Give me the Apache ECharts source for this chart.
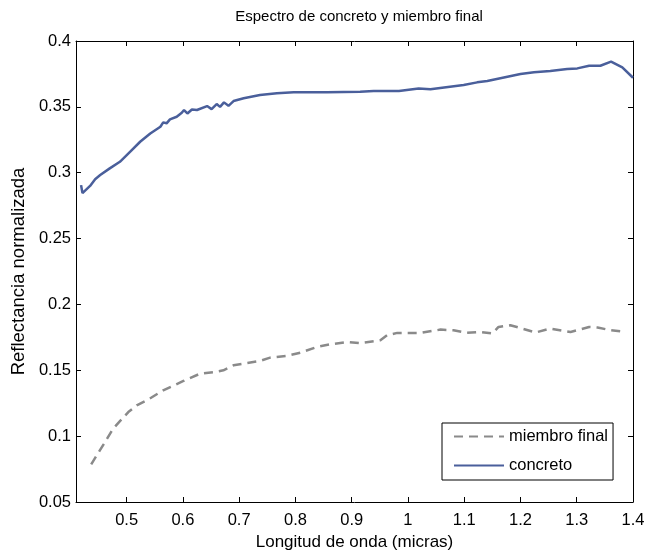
<!DOCTYPE html>
<html>
<head>
<meta charset="utf-8">
<script src="https://cdn.jsdelivr.net/npm/echarts@6/dist/echarts.min.js"></script>
<style>html,body{margin:0;padding:0;background:#fff}#c{width:646px;height:550px}</style>
</head>
<body>
<div id="c"></div>
<script>
const xTicks = [0.5,0.6,0.7,0.8,0.9,1.0,1.1,1.2,1.3,1.4];
const concretoX = [0.419,0.4215,0.435,0.444,0.453,0.470,0.488,0.506,0.524,0.542,0.560,0.565,0.571,0.577,0.589,0.598,0.602,0.608,0.616,0.625,0.643,0.651,0.660,0.666,0.673,0.681,0.690,0.708,0.737,0.767,0.797,0.856,0.915,0.939,0.984,1.019,1.040,1.099,1.123,1.141,1.200,1.224,1.253,1.283,1.301,1.322,1.342,1.361,1.381,1.400];
const concretoY = [0.2906,0.2845,0.290,0.2951,0.2982,0.3033,0.3083,0.3159,0.3235,0.3298,0.3349,0.3382,0.3375,0.3405,0.3425,0.3455,0.3476,0.345,0.348,0.3476,0.3506,0.3483,0.3521,0.350,0.3534,0.3508,0.3544,0.3565,0.359,0.3603,0.361,0.361,0.3615,0.362,0.362,0.364,0.3633,0.3666,0.3686,0.3696,0.3749,0.3762,0.3772,0.3787,0.3792,0.3812,0.3812,0.3843,0.380,0.3721];
const miembroX = [0.437,0.459,0.476,0.503,0.518,0.539,0.565,0.601,0.631,0.657,0.672,0.690,0.708,0.737,0.755,0.785,0.809,0.838,0.862,0.892,0.915,0.951,0.963,0.981,1.023,1.058,1.081,1.105,1.129,1.150,1.161,1.182,1.203,1.227,1.253,1.289,1.322,1.337,1.360,1.387];
const miembroY = [0.0786,0.0938,0.1057,0.1183,0.1234,0.128,0.1348,0.1419,0.1475,0.1487,0.150,0.1538,0.1551,0.1571,0.1596,0.1609,0.1634,0.1677,0.1697,0.1715,0.1707,0.1728,0.1766,0.1784,0.1784,0.1809,0.1804,0.1784,0.1791,0.1779,0.1829,0.1842,0.1817,0.1787,0.1817,0.1791,0.1829,0.1825,0.1804,0.1791];

const font = 'Liberation Sans, Arial, sans-serif';
const zip = (a,b) => a.map((v,i)=>[v,b[i]]);
const axisLine = {show:true, lineStyle:{color:'#000', width:1}};
const chart = echarts.init(document.getElementById('c'));
chart.setOption({
  animation:false,
  title:{text:'Espectro de concreto y miembro final', left:354, top:4, textAlign:'center',
    textStyle:{fontFamily:font, fontSize:15, fontWeight:'normal', color:'#000'}},
  grid:{left:76, right:13, top:41, bottom:48, outerBoundsMode:'none', containLabel:false},
  legend:{orient:'vertical', left:442, top:423, padding:[4,5,5,11], itemGap:10, itemWidth:50, itemHeight:14,
    borderColor:'#000', borderWidth:1, backgroundColor:'#fff', borderRadius:0,
    itemStyle:{opacity:0},
    data:['miembro final','concreto'],
    textStyle:{fontFamily:font, fontSize:16.5, color:'#000', lineHeight:19}},
  xAxis:[{type:'value', min:0.41, max:1.4, position:'bottom',
    name:'Longitud de onda (micras)', nameLocation:'middle', nameGap:29.5,
    nameTextStyle:{fontFamily:font, fontSize:17, color:'#000'},
    axisLine:axisLine, splitLine:{show:false},
    axisTick:{show:true, inside:true, length:5, customValues:xTicks, lineStyle:{color:'#000'}},
    axisLabel:{customValues:xTicks, margin:10, fontFamily:font, fontSize:16.5, color:'#000',
      formatter:v=>String(+v.toFixed(2))}},
   {type:'value', min:0.41, max:1.4, position:'top', axisLine:axisLine, splitLine:{show:false},
    axisTick:{show:true, inside:true, length:5, customValues:xTicks, lineStyle:{color:'#000'}},
    axisLabel:{show:false}}],
  yAxis:[{type:'value', min:0.05, max:0.4, interval:0.05, position:'left',
    name:'Reflectancia normalizada', nameLocation:'middle', nameGap:47,
    nameTextStyle:{fontFamily:font, fontSize:18.5, color:'#000'},
    axisLine:axisLine, splitLine:{show:false},
    axisTick:{show:true, inside:true, length:5, lineStyle:{color:'#000'}},
    axisLabel:{margin:5, fontFamily:font, fontSize:16.5, color:'#000', formatter:v=>String(+v.toFixed(2))}},
   {type:'value', min:0.05, max:0.4, interval:0.05, position:'right', axisLine:axisLine, splitLine:{show:false},
    axisTick:{show:true, inside:true, length:5, lineStyle:{color:'#000'}},
    axisLabel:{show:false}}],
  series:[
    {name:'miembro final', type:'line', data:zip(miembroX, miembroY), symbol:'none',
      itemStyle:{color:'#8a8a8a'}, lineStyle:{color:'#8a8a8a', width:2.5, type:[9,6]}},
    {name:'concreto', type:'line', data:zip(concretoX, concretoY), symbol:'none',
      itemStyle:{color:'#4a5f9b'}, lineStyle:{color:'#4a5f9b', width:2.5}}
  ]
});
</script>
</body>
</html>
